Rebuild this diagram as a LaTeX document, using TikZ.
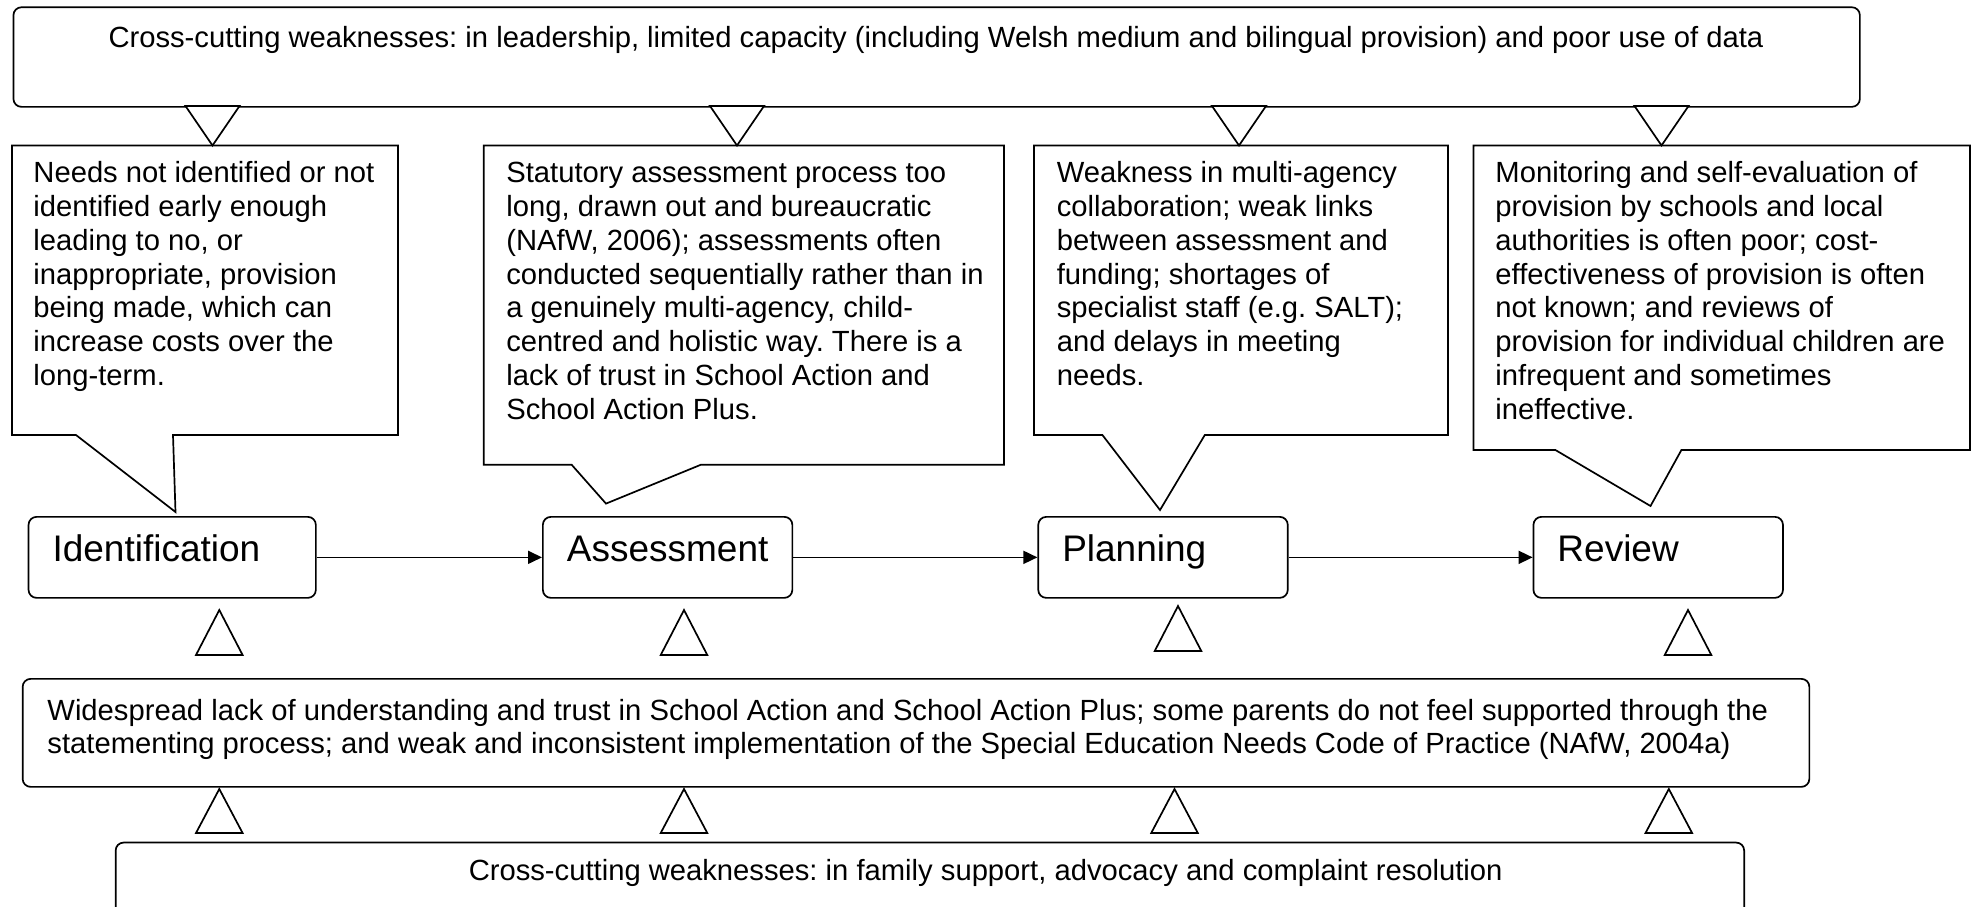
\documentclass[tikz,border=0pt]{standalone}
\usepackage{fontspec}
\setmainfont{Liberation Sans}
\frenchspacing
\usetikzlibrary{arrows.meta}
\usetikzlibrary{positioning}

\begin{document}
\begin{tikzpicture}[x=1pt, y=-1pt, line width=0.85pt,
      every node/.style={font=\fontsize{14.6}{16.9}\selectfont},
      frame/.style={draw, rounded corners=4pt, anchor=north west, inner sep=0pt},
      note/.style={align=left, anchor=base west, inner sep=0pt},
      stage/.style={draw, rounded corners=4pt, anchor=north west, align=left,
                    inner xsep=12pt, inner ysep=0pt, text height=22.5pt, text depth=18pt,
                    font=\fontsize{18.5}{22}\selectfont},
      tri/.style={draw, fill=white},
      flow/.style={-{Triangle[length=7pt, width=6.5pt]}}]
      \useasboundingbox (0,0) rectangle (986.5,453);
      \clip (0,0) rectangle (986.5,453);

      % Top frame
      \node[frame, minimum width=923.2pt, minimum height=49.8pt] (leadbox) at (6.3,3.2) {};
      \node[anchor=base, inner sep=0pt] (leadtxt) at (468,23.75)
            {Cross-cutting weaknesses: in leadership, limited capacity (including Welsh medium and bilingual provision) and poor use of data};

      % Stages
      \node[stage, text width=119.65pt] (ident) at (13.85,258) {Identification};
      \node[stage, text width=100.75pt, right=112.65pt of ident] (assess) {Assessment};
      \node[stage, text width=100.75pt, right=122.1pt of assess] (plan) {Planning};
      \node[stage, text width=100.75pt, right=122pt of plan] (review) {Review};

      \draw[flow] (ident) -- (assess);
      \draw[flow] (assess) -- (plan);
      \draw[flow] (plan) -- (review);

      % Callouts (text anchored at the baseline of the last line)
      \draw (6,72.75) -- (199,72.75) -- (199,217.5) -- (86.5,217.5) -- (87.75,256) -- (38,217.5) -- (6,217.5) -- cycle;
      \draw (241.85,72.75) -- (502,72.75) -- (502,232.4) -- (350.35,232.4) -- (303,251.8) -- (285.85,232.4) -- (241.85,232.4) -- cycle;
      \draw (517,72.75) -- (724,72.75) -- (724,217.5) -- (602.4,217.5) -- (580,255) -- (551.2,217.5) -- (517,217.5) -- cycle;
      \draw (736.75,72.75) -- (985,72.75) -- (985,225) -- (840.7,225) -- (825.25,253) -- (777.7,225) -- (736.75,225) -- cycle;

      \node[note] (needtxt) at (16.3,192.7) {Needs not identified or not\\identified early enough\\leading to no, or\\inappropriate, provision\\being made, which can\\increase costs over the\\long-term.};
      \node[note] (asstxt) at (252.75,209.6) {Statutory assessment process too\\long, drawn out and bureaucratic\\(NAfW, 2006); assessments often\\conducted sequentially rather than in\\a genuinely multi-agency, child-\\centred and holistic way. There is a\\lack of trust in School Action and\\School Action Plus.};
      \node[note] (plantxt) at (528,192.7) {Weakness in multi-agency\\collaboration; weak links\\between assessment and\\funding; shortages of\\specialist staff (e.g. SALT);\\and delays in meeting\\needs.};
      \node[note] (revtxt) at (747.3,209.6) {Monitoring and self-evaluation of\\provision by schools and local\\authorities is often poor; cost-\\effectiveness of provision is often\\not known; and reviews of\\provision for individual children are\\infrequent and sometimes\\ineffective.};

      % Triangles from the top frame
      \foreach \xx in {106.25,368.5,619.5,830.75}
        \draw[tri] (\xx,72.75) -- ++(-13.5,-19.75) -- ++(27,0) -- cycle;

      % Parents frame
      \node[frame, minimum width=893.35pt, minimum height=54pt] (parentbox) at (10.9,339) {};
      \node[note, font=\fontsize{14.6}{16.2}\selectfont] (parenttxt) at (23.3,376.5)
            {Widespread lack of understanding and trust in School Action and School Action Plus; some parents do not feel supported through the\\statementing process; and weak and inconsistent implementation of the Special Education Needs Code of Practice (NAfW, 2004a)};

      % Bottom frame
      \node[frame, minimum width=814.25pt, minimum height=40pt] (familybox) at (57.4,420.85) {};
      \node[note] (familytxt) at (233.95,440) {Cross-cutting weaknesses: in family support, advocacy and complaint resolution};

      % Triangles pointing up
      \foreach \xx/\yy in {109.65/305, 342/305, 589/303, 844/305}
        \draw[tri] (\xx,\yy) -- ++(-11.65,22.5) -- ++(23.3,0) -- cycle;
      \foreach \xx in {109.65, 342, 587.25, 834.4}
        \draw[tri] (\xx,394.5) -- ++(-11.65,22) -- ++(23.3,0) -- cycle;
\end{tikzpicture}
\end{document}
